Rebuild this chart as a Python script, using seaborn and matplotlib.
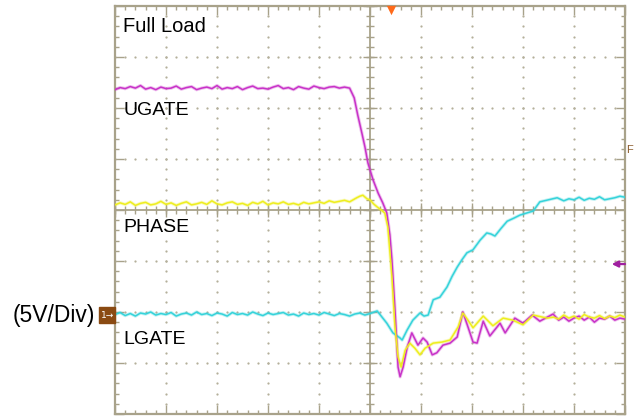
import numpy as np
import pandas as pd
import matplotlib
matplotlib.use("Agg")
import matplotlib.pyplot as plt
import matplotlib.patches as mpatches
import seaborn as sns

# ---- data (screen divisions: x 0..10, y 0..8) ----
ugate_pre = [6.36,6.40,6.38,6.42,6.39,6.44,6.37,6.40,6.36,6.41,
             6.38,6.39,6.43,6.37,6.40,6.42,6.36,6.39,6.41,6.38,
             6.44,6.37,6.40,6.38,6.42,6.36,6.40,6.43,6.38,6.39,
             6.37,6.41,6.44,6.38,6.40,6.36,6.42,6.39,6.37,6.43,
             6.40,6.38,6.41,6.42,6.39,6.41,6.39]
ugate_pre_end = 4.6
ugate_tx = [4.69,4.76,4.84,4.90,4.96,5.06,5.16,5.25,5.33,5.39,
            5.43,5.49,5.55,5.59,5.65,5.73,5.82,5.94,6.04,6.12,
            6.22,6.31,6.43,6.57,6.71,6.82,6.92,7.02,7.10,7.22,
            7.35,7.55,7.65,7.84,8.00,8.18,8.33,8.59]
ugate_ty = [6.20,5.86,5.51,5.24,4.92,4.59,4.33,4.14,3.94,3.51,
            3.02,2.04,0.92,0.73,0.92,1.31,1.59,1.35,1.49,1.41,
            1.16,1.20,1.35,1.39,1.51,2.00,1.71,1.41,1.39,1.82,
            1.53,1.78,1.59,1.88,1.78,1.94,1.82,1.96]
ugate_post_start = 8.7
ugate_post = [1.84,1.90,1.82,1.88,1.92,1.84,1.90,1.80,1.88,1.86,1.92,1.84,1.88,1.86]

lgate_pre = [4.10,4.14,4.11,4.16,4.09,4.13,4.15,4.10,4.12,4.17,
             4.11,4.14,4.09,4.13,4.16,4.10,4.12,4.15,4.11,4.18,
             4.12,4.10,4.14,4.16,4.11,4.13,4.09,4.15,4.12,4.17,
             4.10,4.14,4.12,4.16,4.11,4.13,4.10,4.15,4.12,4.14,
             4.16,4.13,4.18,4.15,4.17,4.19]
lgate_pre_end = 4.5
lgate_tx = [4.60,4.67,4.74,4.80,4.86,4.94,5.00,5.07,5.14,5.22,
            5.29,5.35,5.43,5.49,5.55,5.61,5.69,5.78,5.88,5.98,
            6.08,6.24,6.41,6.57,6.73,6.82,6.92,7.02,7.22,7.41,
            7.61,7.80,8.00,8.20,8.47]
lgate_ty = [4.16,4.20,4.24,4.27,4.29,4.22,4.20,4.12,4.06,4.00,
            3.94,3.67,2.69,1.71,1.12,0.92,1.25,1.39,1.29,1.16,
            1.29,1.39,1.41,1.45,1.71,1.98,1.84,1.69,1.92,1.73,
            1.88,1.84,1.75,1.94,1.88]
lgate_post_start = 8.6
lgate_post = [1.90,1.86,1.94,1.88,1.92,1.86,1.95,1.90,1.88,1.93,1.87,1.92,1.89,1.94,1.90]

phase_pre = [1.95,1.99,1.93,1.97,1.92,1.98,1.96,2.00,1.94,1.97,
             1.95,1.99,1.92,1.96,1.98,1.94,2.00,1.95,1.97,1.93,
             1.98,1.96,1.92,1.99,1.95,1.97,1.94,2.00,1.96,1.93,
             1.98,1.95,1.97,1.99,1.94,1.96,1.92,1.98,1.95,1.97,
             1.94,1.99,1.96,1.93,1.97,1.95,1.92,1.96,1.98,1.94,1.97]
phase_pre_end = 5.0
phase_tx = [5.14,5.22,5.33,5.45,5.59,5.63,5.73,5.84,5.98,6.06,
            6.14,6.24,6.37,6.51,6.61,6.71,6.80,6.90,7.02,7.16,
            7.29,7.37,7.45,7.57,7.69,7.82,7.94,8.07,8.20,8.33,
            8.50,8.67]
phase_ty = [2.02,1.92,1.78,1.59,1.49,1.45,1.65,1.84,1.98,1.92,
            1.94,2.24,2.29,2.49,2.70,2.88,3.02,3.16,3.22,3.41,
            3.55,3.53,3.49,3.64,3.78,3.84,3.90,3.94,3.98,4.16,
            4.20,4.24]
phase_post_start = 8.8
phase_post = [4.18,4.22,4.20,4.25,4.19,4.23,4.21,4.26,4.20,4.22,4.24,4.27,4.25]

labels = ["Full Load", "UGATE", "PHASE", "LGATE"]
scale_label = "(5V/Div)"


def build(pre, pre_end, tx, ty, post_start, post):
    x = list(np.linspace(0, pre_end, len(pre))) + tx + list(np.linspace(post_start, 10, len(post)))
    y = pre + ty + post
    return pd.DataFrame({"t": x, "v": y})

traces = [
    (build(phase_pre, phase_pre_end, phase_tx, phase_ty, phase_post_start, phase_post), "#35d3da"),
    (build(ugate_pre, ugate_pre_end, ugate_tx, ugate_ty, ugate_post_start, ugate_post), "#c832c8"),
    (build(lgate_pre, lgate_pre_end, lgate_tx, lgate_ty, lgate_post_start, lgate_post), "#eeee1e"),
]

sns.set_theme(style="white")
plt.rcParams["font.family"] = ["Liberation Sans", "DejaVu Sans"]

W, H = 634, 416
fig = plt.figure(figsize=(W / 100, H / 100), dpi=100)
ax = fig.add_axes([115 / W, 2 / H, 510 / W, 408 / H])
ax.set_xlim(0, 10)
ax.set_ylim(0, 8)

frame = "#a8a28a"
dotc = "#b4af9a"

# dotted graticule
for gx in range(1, 10):
    if gx != 5:
        ax.scatter([gx] * 41, np.arange(0, 8.01, 0.2), s=2.6, color=dotc, lw=0, zorder=1)
for gy in range(1, 8):
    if gy != 4:
        ax.scatter(np.arange(0, 10.01, 0.2), [gy] * 51, s=2.6, color=dotc, lw=0, zorder=1)

# centre axes with ticks
ax.axhline(4, color=frame, lw=1.3, zorder=1)
ax.axvline(5, color=frame, lw=1.3, zorder=1)
tx_ = np.arange(0, 10.01, 0.2)
ax.vlines(tx_, 4 - 0.07, 4 + 0.07, color=frame, lw=1.0, zorder=1)
ax.vlines(np.arange(0, 11), 4 - 0.14, 4 + 0.14, color=frame, lw=1.0, zorder=1)
ty_ = np.arange(0, 8.01, 0.2)
ax.hlines(ty_, 5 - 0.07, 5 + 0.07, color=frame, lw=1.0, zorder=1)
ax.hlines(np.arange(0, 9), 5 - 0.14, 5 + 0.14, color=frame, lw=1.0, zorder=1)

# traces
for df, col in traces:
    sns.lineplot(data=df, x="t", y="v", ax=ax, sort=False, estimator=None,
                 color=col, lw=2.4, alpha=0.3, zorder=3)
    sns.lineplot(data=df, x="t", y="v", ax=ax, sort=False, estimator=None,
                 color=col, lw=1.1, zorder=4)

# border + ticks
for s in ax.spines.values():
    s.set_color(frame)
    s.set_linewidth(1.6)
ax.set_xticks(range(11))
ax.set_yticks(range(9))
ax.set_xticks(np.arange(0, 10.01, 0.2), minor=True)
ax.set_yticks(np.arange(0, 8.01, 0.2), minor=True)
ax.tick_params(which="both", direction="in", top=True, right=True, bottom=True, left=True,
               labelbottom=False, labelleft=False, color=frame, width=1.0)
ax.tick_params(which="major", length=6.5)
ax.tick_params(which="minor", length=3)
ax.set_xlabel("")
ax.set_ylabel("")

# labels
ax.text(0.16, 7.60, labels[0], fontsize=14.5, color="black", va="center", ha="left")
ax.text(0.16, 5.96, labels[1], fontsize=14, color="black", va="center", ha="left")
ax.text(0.16, 3.65, labels[2], fontsize=14, color="black", va="center", ha="left")
ax.text(0.16, 1.47, labels[3], fontsize=14, color="black", va="center", ha="left")
ax.text(-0.39, 1.94, scale_label, fontsize=16.5, color="black", va="center", ha="right",
        clip_on=False)

# channel marker
ax.add_patch(mpatches.Rectangle((-0.31, 1.78), 0.31, 0.32, color="#8a4a12",
                                clip_on=False, zorder=5))
ax.text(-0.155, 1.93, "1\u2192", fontsize=6.5, color="white", ha="center", va="center",
        clip_on=False, zorder=6, family=["DejaVu Sans"])

# trigger marker
ax.scatter([5.41], [7.93], marker="v", s=45, color="#ff6a1a", lw=0, zorder=6, clip_on=False)

# reference arrow (right side)
ax.annotate("", xy=(9.74, 2.94), xytext=(10.0, 2.94),
            arrowprops=dict(arrowstyle="-|>", color="#a020a0", lw=1.6,
                            mutation_scale=9, shrinkA=0, shrinkB=0),
            annotation_clip=False)
ax.text(10.03, 5.18, "F", fontsize=8, color="#8b5a2b", ha="left", va="center", clip_on=False)

fig.savefig("out.png", dpi=100)
